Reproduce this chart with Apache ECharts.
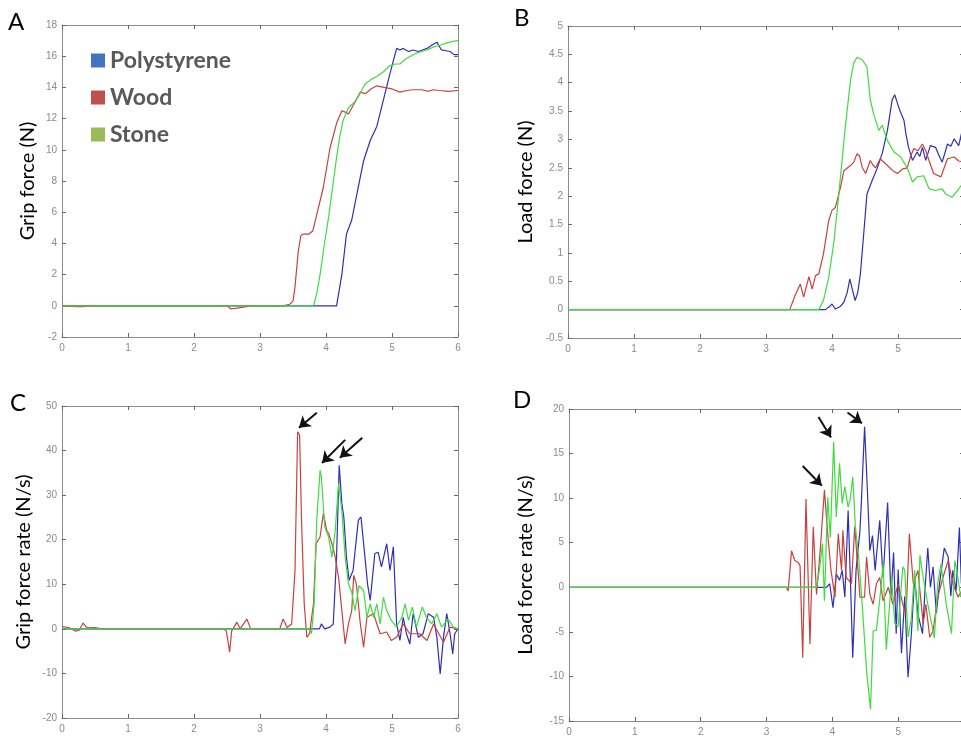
<!DOCTYPE html>
<html>
<head>
<meta charset="utf-8">
<script src="https://cdn.jsdelivr.net/npm/echarts@6/dist/echarts.min.js"></script>
<style>html,body{margin:0;padding:0;background:#fff}#c{width:961px;height:738px}</style>
</head>
<body>
<div id="c"></div>
<script>
// ---------- data ----------
const seriesNames = ['Polystyrene', 'Wood', 'Stone'];
const panelLetters = ['A', 'B', 'C', 'D'];
const axisTitles = ['Grip force (N)', 'Load force (N)', 'Grip force rate (N/s)', 'Load force rate (N/s)'];
const yRanges = [[-2, 18, 2], [-0.5, 5, 0.5], [-20, 50, 10], [-15, 20, 5]];
const xRange = [0, 6, 1];

const gripPoly = [[0,0],[4.16,0],[4.24,2.0],[4.31,4.6],[4.39,5.5],[4.46,7.0],[4.57,9.3],[4.67,10.6],[4.77,11.5],[4.87,13.2],[4.97,14.9],[5.07,16.5],[5.12,16.4],[5.17,16.5],[5.25,16.3],[5.32,16.4],[5.4,16.3],[5.46,16.4],[5.53,16.5],[5.6,16.7],[5.68,16.9],[5.75,16.4],[5.82,16.35],[5.88,16.3],[5.94,16.1],[6.0,16.1]];
const gripWood = [[0,0],[0.22,-0.05],[0.32,-0.05],[0.4,0],[2.5,0],[2.56,-0.2],[2.65,-0.15],[2.8,-0.05],[2.86,0],[3.35,0],[3.45,0.1],[3.5,0.3],[3.53,1.2],[3.58,3.5],[3.62,4.5],[3.66,4.6],[3.74,4.6],[3.8,4.8],[3.88,6.2],[3.96,7.6],[4.06,10.1],[4.16,11.7],[4.24,12.5],[4.3,12.4],[4.34,12.3],[4.42,12.9],[4.52,13.7],[4.6,13.6],[4.68,13.9],[4.77,14.1],[4.88,14.0],[5.0,13.9],[5.12,13.7],[5.22,13.8],[5.32,13.85],[5.45,13.85],[5.55,13.75],[5.62,13.85],[5.72,13.8],[5.85,13.75],[6.0,13.8]];
const gripStone = [[0,0],[3.81,0],[3.86,0.8],[3.91,2.0],[3.97,3.8],[4.04,5.7],[4.1,7.6],[4.16,9.5],[4.21,10.9],[4.26,11.9],[4.34,12.7],[4.42,13.0],[4.49,13.4],[4.59,14.2],[4.68,14.5],[4.77,14.7],[4.87,15.0],[4.97,15.4],[5.05,15.5],[5.12,15.5],[5.2,15.8],[5.28,16.0],[5.37,16.2],[5.45,16.3],[5.53,16.4],[5.63,16.6],[5.73,16.7],[5.83,16.85],[5.92,16.95],[6.0,17.0]];

const loadPoly = [[0,0],[3.8,0],[3.9,0],[3.96,0.05],[4.0,0.1],[4.05,0.01],[4.12,0.05],[4.18,0.13],[4.23,0.3],[4.27,0.54],[4.31,0.35],[4.35,0.16],[4.39,0.3],[4.43,0.63],[4.48,1.33],[4.53,2.04],[4.61,2.28],[4.68,2.48],[4.76,2.75],[4.84,3.16],[4.91,3.69],[4.95,3.79],[5.01,3.57],[5.05,3.45],[5.09,3.34],[5.12,3.1],[5.16,2.86],[5.22,2.63],[5.29,2.78],[5.33,2.7],[5.37,2.86],[5.42,2.63],[5.49,2.89],[5.57,2.86],[5.62,2.72],[5.67,2.6],[5.75,2.92],[5.8,2.88],[5.85,3.01],[5.92,2.89],[5.96,3.1],[6.0,3.15]];
const loadWood = [[0,0],[3.36,0],[3.44,0.25],[3.52,0.45],[3.57,0.22],[3.65,0.58],[3.70,0.36],[3.75,0.6],[3.80,0.63],[3.87,0.98],[3.95,1.57],[4.0,1.75],[4.05,1.8],[4.13,2.16],[4.18,2.45],[4.28,2.54],[4.33,2.6],[4.38,2.75],[4.42,2.7],[4.46,2.5],[4.51,2.4],[4.58,2.63],[4.62,2.55],[4.66,2.5],[4.73,2.66],[4.84,2.54],[4.92,2.45],[4.99,2.4],[5.07,2.48],[5.14,2.5],[5.19,2.7],[5.24,2.84],[5.3,2.8],[5.37,2.92],[5.42,2.8],[5.47,2.63],[5.54,2.4],[5.65,2.34],[5.7,2.5],[5.75,2.66],[5.85,2.69],[5.92,2.62],[6.0,2.6]];
const loadStone = [[0,0],[3.8,0],[3.87,0.16],[3.95,0.57],[4.03,1.2],[4.10,2.0],[4.2,3.2],[4.28,4.04],[4.33,4.35],[4.38,4.45],[4.46,4.4],[4.53,4.28],[4.58,3.7],[4.63,3.45],[4.71,3.16],[4.76,3.25],[4.84,2.98],[4.94,2.78],[5.04,2.69],[5.14,2.5],[5.22,2.25],[5.29,2.34],[5.39,2.36],[5.47,2.13],[5.57,2.1],[5.67,2.13],[5.72,2.04],[5.82,1.98],[5.9,2.1],[5.96,2.19],[6.0,2.2]];

const gripRatePoly = [[0,0],[1.28,0],[1.3,0.3],[1.33,0],[3.9,0],[3.93,1.1],[3.98,0],[4.06,0.4],[4.11,1.1],[4.16,16.1],[4.2,36.7],[4.24,28.1],[4.27,25.1],[4.31,16.1],[4.35,10.9],[4.41,13.1],[4.49,24.4],[4.53,25.1],[4.59,16.1],[4.63,10],[4.67,6.4],[4.74,16.9],[4.79,17.2],[4.84,13.9],[4.92,19.1],[4.97,13.1],[5.02,18.4],[5.07,1.1],[5.12,-2.6],[5.17,2.6],[5.22,-1.1],[5.27,-3.4],[5.32,3.4],[5.4,-1.9],[5.47,-1.1],[5.55,3.4],[5.63,2.6],[5.68,-1.9],[5.73,-10.1],[5.78,-1.9],[5.83,3.4],[5.88,-1.1],[5.92,-5.6],[5.95,-1.1],[6.0,0]];
const gripRateWood = [[0,0.5],[0.1,0.3],[0.2,-0.5],[0.26,-0.3],[0.32,1.3],[0.38,0.2],[0.5,0.3],[0.6,0],[2.45,0],[2.49,-0.5],[2.54,-5.2],[2.57,-0.5],[2.65,1.5],[2.7,0],[2.8,2.2],[2.86,0],[3.3,0],[3.35,2.2],[3.41,0.3],[3.48,1.1],[3.53,13],[3.57,44.2],[3.6,43.5],[3.63,24],[3.67,5.6],[3.71,-1.9],[3.75,-1.1],[3.81,5.6],[3.85,19.1],[3.91,20.6],[3.96,25.9],[4.01,22.1],[4.04,21.4],[4.09,19.1],[4.14,16.1],[4.19,11.6],[4.24,4.1],[4.29,-3.4],[4.34,1.1],[4.39,4.1],[4.42,12],[4.46,10.1],[4.52,1.1],[4.57,-4.1],[4.62,2.6],[4.72,3.4],[4.82,-1.1],[4.92,-0.7],[4.99,-2.6],[5.07,-1.9],[5.17,1.1],[5.27,-1.1],[5.42,-1.1],[5.53,-2.6],[5.63,1.1],[5.78,-3],[5.88,0.4],[6.0,0]];
const gripRateStone = [[0,0],[3.75,0],[3.78,-1.1],[3.82,5.6],[3.86,24.4],[3.91,35.6],[3.93,34.1],[3.98,22.9],[4.04,20.6],[4.09,16.1],[4.14,22.1],[4.19,32.6],[4.24,26.6],[4.29,16.1],[4.34,10.1],[4.39,8.2],[4.44,4.1],[4.5,9.7],[4.57,8.6],[4.62,2.6],[4.67,5.6],[4.72,2.6],[4.77,5.6],[4.82,1.1],[4.87,7.1],[4.92,4.1],[4.99,1.9],[5.07,0.4],[5.15,2.6],[5.2,5.6],[5.25,1.9],[5.31,4.9],[5.37,0.4],[5.46,4.9],[5.52,2.6],[5.6,1.1],[5.68,3.4],[5.75,0.4],[5.85,2.2],[5.93,0.4],[6.0,0]];

const loadRatePoly = [[0,0],[3.8,0],[3.91,0],[3.96,0.4],[4.01,-2.3],[4.06,1.5],[4.11,0.8],[4.15,1.9],[4.19,-1.1],[4.24,8.6],[4.27,1.9],[4.31,-7.9],[4.36,1.9],[4.42,6.4],[4.44,9.4],[4.49,18.0],[4.53,11.3],[4.57,4.1],[4.61,5.8],[4.65,1.9],[4.72,7.5],[4.77,1.1],[4.84,9.5],[4.89,-1.0],[4.93,3.9],[4.97,-5.2],[5.0,2.0],[5.05,-7.4],[5.1,-1.0],[5.15,-10.1],[5.2,-5.3],[5.25,1.1],[5.3,-3.0],[5.37,-5.2],[5.41,0],[5.45,4.4],[5.49,0],[5.53,2.3],[5.58,-2.9],[5.63,0.5],[5.7,4.4],[5.76,3.4],[5.8,-1.0],[5.83,1.9],[5.88,-0.4],[5.93,6.7],[5.96,0.4],[6.0,7.0]];
const loadRateWood = [[0,0],[3.3,0],[3.33,-0.4],[3.38,4.1],[3.43,3.0],[3.48,2.8],[3.51,2.4],[3.55,-7.9],[3.6,9.9],[3.66,-6.4],[3.71,6.8],[3.76,-0.8],[3.81,3.6],[3.88,10.9],[3.93,6.0],[3.98,1.9],[4.04,-1.1],[4.09,6.0],[4.14,1.9],[4.16,6.4],[4.21,1.1],[4.29,0.4],[4.34,6.8],[4.42,-1.1],[4.49,-1.1],[4.52,3.4],[4.57,-0.8],[4.62,-1.9],[4.67,0.4],[4.72,1.1],[4.77,-1.5],[4.85,0],[4.92,-1.9],[5.0,0.4],[5.07,-1.9],[5.12,-3.0],[5.17,6.0],[5.23,0.4],[5.3,1.9],[5.38,-4.1],[5.42,-1.9],[5.48,-5.6],[5.53,-4.9],[5.6,-1.1],[5.68,1.1],[5.76,3.0],[5.83,0.4],[5.91,-1.1],[6.0,0]];
const loadRateStone = [[0,0],[2.52,0],[2.54,0.2],[2.56,0],[3.76,0],[3.81,2.3],[3.85,4.9],[3.88,-1.5],[3.93,10.1],[3.97,5.6],[4.02,16.3],[4.06,7.9],[4.11,13.9],[4.15,9.4],[4.19,11.3],[4.24,9.0],[4.27,9.8],[4.31,12.4],[4.35,6.8],[4.4,3.4],[4.46,-2.6],[4.52,-9.4],[4.58,-13.7],[4.62,-4.9],[4.67,-4.8],[4.72,-1.4],[4.77,2.6],[4.82,-7.0],[4.9,1.1],[4.95,-4.1],[5.0,-4.4],[5.07,2.3],[5.1,1.9],[5.15,-5.6],[5.2,-3.5],[5.25,1.9],[5.3,-4.9],[5.33,3.6],[5.38,1.1],[5.45,-1.9],[5.55,-5.7],[5.6,0.4],[5.65,2.6],[5.73,-1.9],[5.81,-5.2],[5.86,3.0],[5.89,1.9],[5.95,-1.1],[6.0,0]];

// arrows: [fromX, fromY, toX, toY] in data units
const arrowsC = [[3.86,48.5,3.59,45.1],[4.29,42.4,3.94,37.2],[4.55,42.9,4.21,38.4]];
const arrowsD = [[3.55,13.6,3.84,11.4],[3.79,19.1,3.98,16.8],[4.23,19.6,4.45,18.4]];

const panelData = [
  [gripPoly, gripWood, gripStone],
  [loadPoly, loadWood, loadStone],
  [gripRatePoly, gripRateWood, gripRateStone],
  [loadRatePoly, loadRateWood, loadRateStone]
];

// ---------- styles / layout ----------
const lineColors = ['#2f2fb4', '#c8413f', '#3fdc3f'];
const legendColors = ['#4472c4', '#c0504d', '#9bbb59'];
const grids = [
  {left: 62, top: 25, width: 396, height: 312},
  {left: 568, top: 26, width: 396, height: 312},
  {left: 62, top: 406, width: 396, height: 312},
  {left: 569, top: 409, width: 395, height: 312}
];
const nameGaps = [24, 32, 28, 33];
const letterPos = [[8, 10], [514, 6], [10, 391], [513, 388]];
const frameColor = '#8c8c8c';
const tickLbl = {color: '#8a8a8a', fontSize: 10, fontFamily: 'Liberation Sans'};

const xAxes = [], yAxes = [], series = [], titles = [];
grids.forEach((g, i) => {
  const common = {
    type: 'value', gridIndex: i,
    axisLine: {show: true, onZero: false, lineStyle: {color: frameColor, width: 1}},
    axisTick: {show: true, inside: true, length: 4, lineStyle: {color: '#666'}},
    splitLine: {show: false}
  };
  xAxes.push(Object.assign({}, common, {
    min: xRange[0], max: xRange[1], interval: xRange[2], position: 'bottom',
    axisLabel: Object.assign({margin: 6, showMinLabel: true, showMaxLabel: true}, tickLbl)
  }));
  xAxes.push(Object.assign({}, common, {
    min: xRange[0], max: xRange[1], interval: xRange[2], position: 'top',
    axisLabel: {show: false}
  }));
  const yr = yRanges[i];
  yAxes.push(Object.assign({}, common, {
    min: yr[0], max: yr[1], interval: yr[2], position: 'left',
    axisLabel: Object.assign({margin: 5, showMinLabel: true, showMaxLabel: true}, tickLbl),
    name: axisTitles[i], nameLocation: 'middle', nameGap: nameGaps[i],
    nameTextStyle: {fontFamily: 'Lato', fontSize: 20, color: '#000'}
  }));
  yAxes.push(Object.assign({}, common, {
    min: yr[0], max: yr[1], interval: yr[2], position: 'right',
    axisLabel: {show: false}
  }));
  titles.push({
    text: panelLetters[i], left: letterPos[i][0], top: letterPos[i][1], padding: 0,
    textStyle: {fontFamily: 'Lato', fontSize: 24, fontWeight: 'normal', color: '#000'}
  });
  const order = [0, 1, 2];
  order.forEach(k => {
    series.push({
      type: 'line', name: seriesNames[k], xAxisIndex: i * 2, yAxisIndex: i * 2,
      data: panelData[i][k], showSymbol: false, symbol: 'none', smooth: false,
      lineStyle: {color: lineColors[k], width: 1.2}, itemStyle: {color: lineColors[k]},
      z: 3
    });
  });
  const arrows = i === 2 ? arrowsC : (i === 3 ? arrowsD : null);
  if (arrows) {
    series[series.length - 1].markLine = {
      silent: true, animation: false,
      symbol: ['none', 'arrow'], symbolSize: 11,
      label: {show: false},
      lineStyle: {color: '#111', width: 2, type: 'solid'},
      itemStyle: {color: '#111'},
      data: arrows.map(a => [{coord: [a[0], a[1]]}, {coord: [a[2], a[3]]}])
    };
  }
});

const chart = echarts.init(document.getElementById('c'), null, {renderer: 'canvas'});
chart.setOption({
  animation: false,
  backgroundColor: '#fff',
  title: titles,
  grid: grids.map(g => Object.assign({containLabel: false, outerBoundsMode: 'none'}, g)),
  xAxis: xAxes,
  yAxis: yAxes,
  legend: {
    orient: 'vertical', left: 86, top: 44, itemGap: 14,
    icon: 'rect', itemWidth: 14, itemHeight: 14,
    selectedMode: false,
    textStyle: {fontFamily: 'Lato', fontWeight: 'bold', fontSize: 23, color: '#595959', lineHeight: 22},
    data: seriesNames.map((n, k) => ({name: n, itemStyle: {color: legendColors[k]}}))
  },
  series: series
});
</script>
</body>
</html>
